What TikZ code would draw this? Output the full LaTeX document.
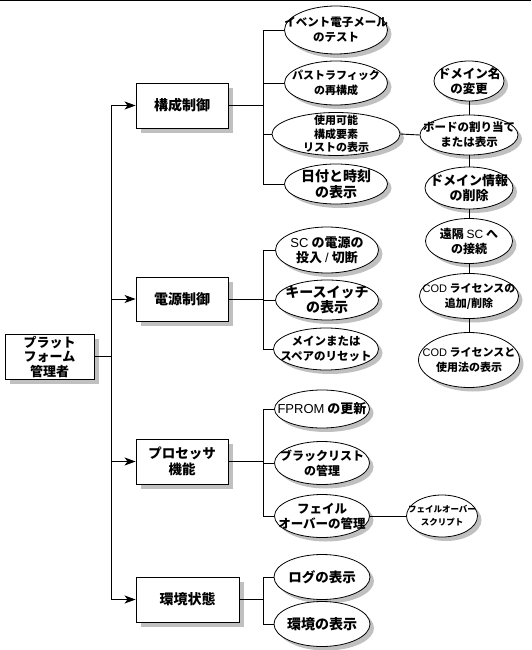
\documentclass[tikz,border=0pt]{standalone}
\usepackage{fontspec}
\newfontfamily\jp{Noto Sans CJK JP}[BoldFont=* Black]
\newfontfamily\latn{Liberation Sans}
\usetikzlibrary{shapes.geometric,arrows.meta}
\newcommand\jf[2]{\jp\bfseries\fontsize{#1}{#2}\selectfont}
\newcommand\lat[1]{{\latn\mdseries #1}}
\definecolor{shd}{RGB}{192,192,192}
\begin{document}
\begin{tikzpicture}[x=1pt,y=-1pt,
  ln/.style={line width=0.9pt},
  arr/.style={line width=0.9pt, -{Stealth[length=11pt,width=8pt,inset=3pt]}},
  rbox/.style={draw, line width=0.9pt, fill=white, inner sep=1pt, align=center},
  el/.style 2 args={ellipse, draw, line width=0.8pt, fill=white, inner sep=0pt,
    minimum width=#1pt, minimum height=#2pt},
  lt/.style={align=center, inner sep=0pt},
  shadowfill/.style={fill=shd, draw=none}]
\useasboundingbox (0,0) rectangle (531,650);
\draw[line width=1pt] (0,0.8) -- (531,0.8);

% shadows (drawn first, behind the shapes)
\fill[shadowfill] (10,339) rectangle (99,384);
\fill[shadowfill] (141,88) rectangle (233,133);
\fill[shadowfill] (141,282) rectangle (233,326);
\fill[shadowfill] (141,444) rectangle (233,489);
\fill[shadowfill] (141,582) rectangle (244,627);
\fill[shadowfill] (340,34) ellipse [x radius=51.5, y radius=24];
\fill[shadowfill] (340,87) ellipse [x radius=51.5, y radius=22];
\fill[shadowfill] (340,138) ellipse [x radius=64, y radius=21.5];
\fill[shadowfill] (340,188) ellipse [x radius=51.5, y radius=20];
\fill[shadowfill] (473,85) ellipse [x radius=35, y radius=20];
\fill[shadowfill] (473,139) ellipse [x radius=49, y radius=20];
\fill[shadowfill] (473,192) ellipse [x radius=44, y radius=21];
\fill[shadowfill] (473,245) ellipse [x radius=43.5, y radius=22.5];
\fill[shadowfill] (473,300) ellipse [x radius=49.5, y radius=22.5];
\fill[shadowfill] (473,364) ellipse [x radius=50.5, y radius=27.5];
\fill[shadowfill] (331,254) ellipse [x radius=51.5, y radius=23];
\fill[shadowfill] (331,304) ellipse [x radius=51.5, y radius=20];
\fill[shadowfill] (330,353) ellipse [x radius=52.5, y radius=21];
\fill[shadowfill] (326,413) ellipse [x radius=47.5, y radius=19];
\fill[shadowfill] (326,467) ellipse [x radius=47.5, y radius=21.5];
\fill[shadowfill] (326,520) ellipse [x radius=47.5, y radius=21.5];
\fill[shadowfill] (446,520) ellipse [x radius=35.5, y radius=21];
\fill[shadowfill] (326,581) ellipse [x radius=48, y radius=22.5];
\fill[shadowfill] (326,628) ellipse [x radius=48, y radius=22.5];

% boxes
\node[rbox, minimum width=89pt, minimum height=45pt, font=\jf{13}{14.5}] (pm) at (49.5,356.5) {プラット\\フォーム\\管理者};
\node[rbox, minimum width=92pt, minimum height=45pt, font=\jf{14}{16}] (kc) at (182,105.5) {構成制御};
\node[rbox, minimum width=92pt, minimum height=44pt, font=\jf{14}{16}] (dc) at (182,299) {電源制御};
\node[rbox, minimum width=92pt, minimum height=45pt, font=\jf{13.5}{16}] (pf) at (182,461.5) {プロセッサ\\機能};
\node[rbox, minimum width=103pt, minimum height=45pt, font=\jf{14}{16}] (ks) at (187.5,599.5) {環境状態};

% configuration children
\node[el={103}{48}, label={[lt, font=\jf{11.5}{15}]center:{イベント電子メール\\のテスト}}] (e1) at (336,30) {};
\node[el={103}{44}, label={[lt, font=\jf{11}{15}]center:{パストラフィック\\の再構成}}] (e2) at (336,83) {};
\node[el={128}{43}, label={[lt, font=\jf{11}{13.3}]center:{使用可能\\構成要素\\リストの表示}}] (e3) at (336,134) {};
\node[el={103}{40}, label={[lt, font=\jf{14}{15.5}]center:{日付と時刻\\の表示}}] (e4) at (336,184) {};

% right column
\node[el={70}{40}, label={[lt, font=\jf{12.5}{15}]center:{ドメイン名\\の変更}}] (r1) at (469,81) {};
\node[el={98}{40}, label={[lt, font=\jf{11.5}{15}]center:{ボードの割り当て\\または表示}}] (r2) at (469,135) {};
\node[el={88}{42}, label={[lt, font=\jf{13}{14.5}]center:{ドメイン情報\\の削除}}] (r3) at (469,188) {};
\node[el={87}{45}, label={[lt, font=\jf{12}{15}]center:{遠隔 \lat{SC} へ\\の接続}}] (r4) at (469,241) {};
\node[el={99}{45}, label={[lt, font=\jf{11}{15}]center:{\lat{COD} ライセンスの\\追加/削除}}] (r5) at (469,296) {};
\node[el={101}{55}, label={[lt, font=\jf{11}{15}]center:{\lat{COD} ライセンスと\\使用法の表示}}] (r6) at (469,360) {};

% power children
\node[el={103}{46}, label={[lt, font=\jf{13}{15}]center:{\lat{SC} の電源の\\投入 \lat{/} 切断}}] (p1) at (327,250) {};
\node[el={103}{40}, label={[lt, font=\jf{14}{15.5}]center:{キースイッチ\\の表示}}] (p2) at (327,300) {};
\node[el={105}{42}, label={[lt, font=\jf{11.5}{15}]center:{メインまたは\\スペアのリセット}}] (p3) at (326,349) {};

% processor children
\node[el={95}{38}, label={[lt, font=\jf{13}{15}]center:{\lat{FPROM} の更新}}] (f1) at (322,409) {};
\node[el={95}{43}, label={[lt, font=\jf{12}{15}]center:{ブラックリスト\\の管理}}] (f2) at (322,463) {};
\node[el={95}{43}, label={[lt, font=\jf{12.5}{15}]center:{フェイル\\オーバーの管理}}] (f3) at (322,516) {};
\node[el={71}{42}, label={[lt, font=\jf{8.5}{13}]center:{フェイルオーバー\\スクリプト}}] (f4) at (442,516) {};

% environment children
\node[el={96}{45}, label={[lt, font=\jf{13.5}{15}]center:{ログの表示}}] (g1) at (322,577) {};
\node[el={96}{45}, label={[lt, font=\jf{14}{15}]center:{環境の表示}}] (g2) at (322,624) {};

% connectors
\coordinate (tr) at (111,0);
\coordinate (bx) at (263,0);
\draw[ln] (pm.east) -- (pm.east -| tr);
\draw[ln] (tr |- kc.west) -- (tr |- ks.west);
\foreach \q in {kc,dc,pf,ks} \draw[arr] (tr |- \q.west) -- (\q.west);

\draw[ln] (kc.east) -- (kc.east -| bx);
\draw[ln] (e1.west) -- (e1.west -| bx) -- (e4.west -| bx) -- (e4.west);
\draw[ln] (e2.west) -- (e2.west -| bx);
\draw[ln] (e3.west) -- (e3.west -| bx);

\draw[ln] (dc.east) -- (dc.east -| bx);
\draw[ln] (p1.west) -- (p1.west -| bx) -- (p3.west -| bx) -- (p3.west);
\draw[ln] (p2.west) -- (p2.west -| bx);

\draw[ln] (pf.east) -- (pf.east -| bx);
\draw[ln] (f1.west) -- (f1.west -| bx) -- (f3.west -| bx) -- (f3.west);
\draw[ln] (f2.west) -- (f2.west -| bx);

\draw[ln] (ks.east) -- (ks.east -| bx);
\draw[ln] (g1.west) -- (g1.west -| bx) -- (g2.west -| bx) -- (g2.west);

\draw[ln] (e3.east) -- (r2.west);
\draw[ln] (r1.south) -- (r2.north);
\draw[ln] (r2.south) -- (r3.north);
\draw[ln] (r3.south) -- (r4.north);
\draw[ln] (r4.south) -- (r5.north);
\draw[ln] (r5.south) -- (r6.north);
\draw[ln] (f3.east) -- (f4.west);
\end{tikzpicture}
\end{document}
